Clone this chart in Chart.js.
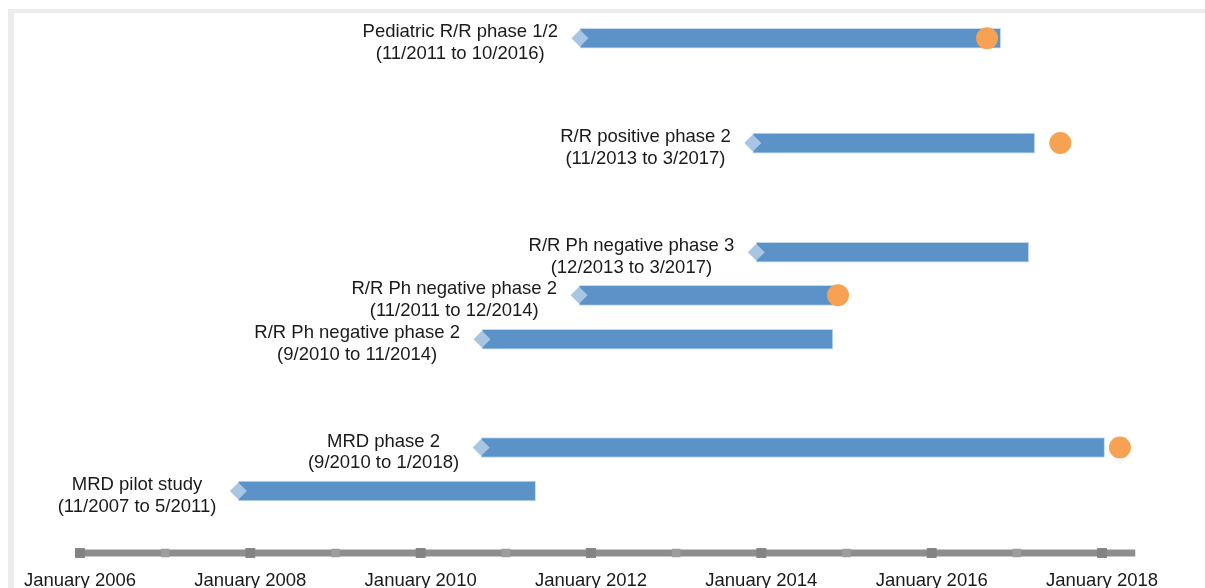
<!DOCTYPE html>
<html>
<head>
<meta charset="utf-8">
<title>Trial timeline</title>
<script src="https://cdn.jsdelivr.net/npm/chart.js@4.4.1/dist/chart.umd.min.js"></script>
<style>
    html, body { margin: 0; padding: 0; background: #ffffff; }
    #chart-wrap { position: relative; width: 1205px; height: 588px; }
</style>
</head>
<body>
<div id="chart-wrap"><canvas id="timeline-chart"></canvas></div>
<script>
// Trial names and their date ranges (second label line)
const trialNames = [
    'Pediatric R/R phase 1/2',
    'R/R positive phase 2',
    'R/R Ph negative phase 3',
    'R/R Ph negative phase 2',
    'R/R Ph negative phase 2',
    'MRD phase 2',
    'MRD pilot study'
];
const trialPeriods = [
    '(11/2011 to 10/2016)',
    '(11/2013 to 3/2017)',
    '(12/2013 to 3/2017)',
    '(11/2011 to 12/2014)',
    '(9/2010 to 11/2014)',
    '(9/2010 to 1/2018)',
    '(11/2007 to 5/2011)'
];

// Bar start / end in decimal years
const trialStarts = [2011.87, 2013.90, 2013.94, 2011.86, 2010.72, 2010.71, 2007.86];
const trialEnds = [2016.81, 2017.21, 2017.14, 2014.84, 2014.84, 2018.03, 2011.35];

// Vertical lane of each trial
const trialLanes = [11.41, 9, 6.49, 5.5, 4.49, 2, 1];

// Orange milestone marker per trial (null = none)
const milestones = [2016.65, 2017.51, null, 2014.90, null, 2018.21, null];

// Time axis
const axisYears = [2006, 2007, 2008, 2009, 2010, 2011, 2012, 2013, 2014, 2015, 2016, 2017, 2018];
const axisEnd = 2018.39;
const labelYears = [2006, 2008, 2010, 2012, 2014, 2016, 2018];

const AXIS_LEVEL = -0.425;
const FONT = '18.5px "Liberation Sans", Arial, sans-serif';

/**
 * Light gray frame behind the chart
 */
const framePlugin = {
    id: 'frame',
    beforeDraw(chart) {
        const ctx = chart.ctx;
        ctx.save();
        ctx.fillStyle = '#ffffff';
        ctx.fillRect(0, 0, chart.width, chart.height);
        ctx.fillStyle = '#ececec';
        ctx.fillRect(8, 9, chart.width - 8, 4);
        ctx.fillRect(8, 9, 6, chart.height - 9);
        ctx.restore();
    }
};

/**
 * Trial labels left of each bar and the year labels under the axis
 */
const labelPlugin = {
    id: 'labels',
    afterDatasetsDraw(chart) {
        const ctx = chart.ctx;
        const x = chart.scales.x;
        const y = chart.scales.y;
        ctx.save();
        ctx.font = FONT;
        ctx.fillStyle = '#1a1a1a';
        ctx.textAlign = 'center';
        ctx.textBaseline = 'alphabetic';

        trialNames.forEach((name, i) => {
            const startPx = x.getPixelForValue(trialStarts[i]);
            const barY = y.getPixelForValue(trialLanes[i]);
            const w = Math.max(ctx.measureText(name).width, ctx.measureText(trialPeriods[i]).width);
            const cx = startPx - 22 - w / 2;
            ctx.fillText(name, cx, barY - 1);
            ctx.fillText(trialPeriods[i], cx, barY + 20.5);
        });

        labelYears.forEach(yr => {
            ctx.fillText('January ' + yr, x.getPixelForValue(yr), 586);
        });
        ctx.restore();
    }
};

function initTimelineChart() {
    const canvas = document.getElementById('timeline-chart');
    if (!canvas) {
        console.error('Cannot find timeline-chart canvas element');
        return;
    }
    const ctx = canvas.getContext('2d');

    const barData = trialStarts.map((s, i) => ({ x: [s, trialEnds[i]], y: trialLanes[i] }));
    const diamondData = trialStarts.map((s, i) => ({ x: s, y: trialLanes[i] }));
    const milestoneData = [];
    milestones.forEach((m, i) => {
        if (m !== null) milestoneData.push({ x: m, y: trialLanes[i] });
    });

    const axisData = axisYears.map(yr => ({ x: yr, y: AXIS_LEVEL }));
    axisData.push({ x: axisEnd, y: AXIS_LEVEL });
    const axisRadius = axisYears.map(yr => (yr % 2 === 0 ? 7 : 6)).concat([0]);
    const axisPointColor = axisYears.map(yr => (yr % 2 === 0 ? '#838383' : '#9d9d9d')).concat(['#8e8e8e']);

    new Chart(ctx, {
        type: 'scatter',
        data: {
            datasets: [
                {
                    type: 'line',
                    data: axisData,
                    borderColor: '#8e8e8e',
                    borderWidth: 7,
                    borderCapStyle: 'butt',
                    pointStyle: 'rect',
                    pointRadius: axisRadius,
                    pointBackgroundColor: axisPointColor,
                    pointBorderWidth: 0,
                    order: 4
                },
                {
                    type: 'bar',
                    indexAxis: 'y',
                    data: barData,
                    backgroundColor: '#5b93c9',
                    borderColor: '#c6daee',
                    borderWidth: 1,
                    borderSkipped: false,
                    barThickness: 20,
                    order: 3
                },
                {
                    data: diamondData,
                    pointStyle: 'rectRot',
                    pointRadius: 8.5,
                    backgroundColor: '#a9c5e4',
                    borderWidth: 0,
                    order: 2
                },
                {
                    data: milestoneData,
                    pointStyle: 'circle',
                    pointRadius: 11,
                    backgroundColor: '#f6a252',
                    borderWidth: 0,
                    order: 1
                }
            ]
        },
        options: {
            responsive: false,
            animation: false,
            events: [],
            layout: { padding: 0, autoPadding: false },
            plugins: {
                legend: { display: false },
                tooltip: { enabled: false }
            },
            scales: {
                x: { type: 'linear', min: 2005.061, max: 2019.209, display: false, offset: false },
                y: { type: 'linear', min: -1.23, max: 12.29, display: false, offset: false }
            }
        },
        plugins: [framePlugin, labelPlugin]
    });
}

const cv = document.getElementById('timeline-chart');
cv.width = 1205;
cv.height = 588;
initTimelineChart();
</script>
</body>
</html>
